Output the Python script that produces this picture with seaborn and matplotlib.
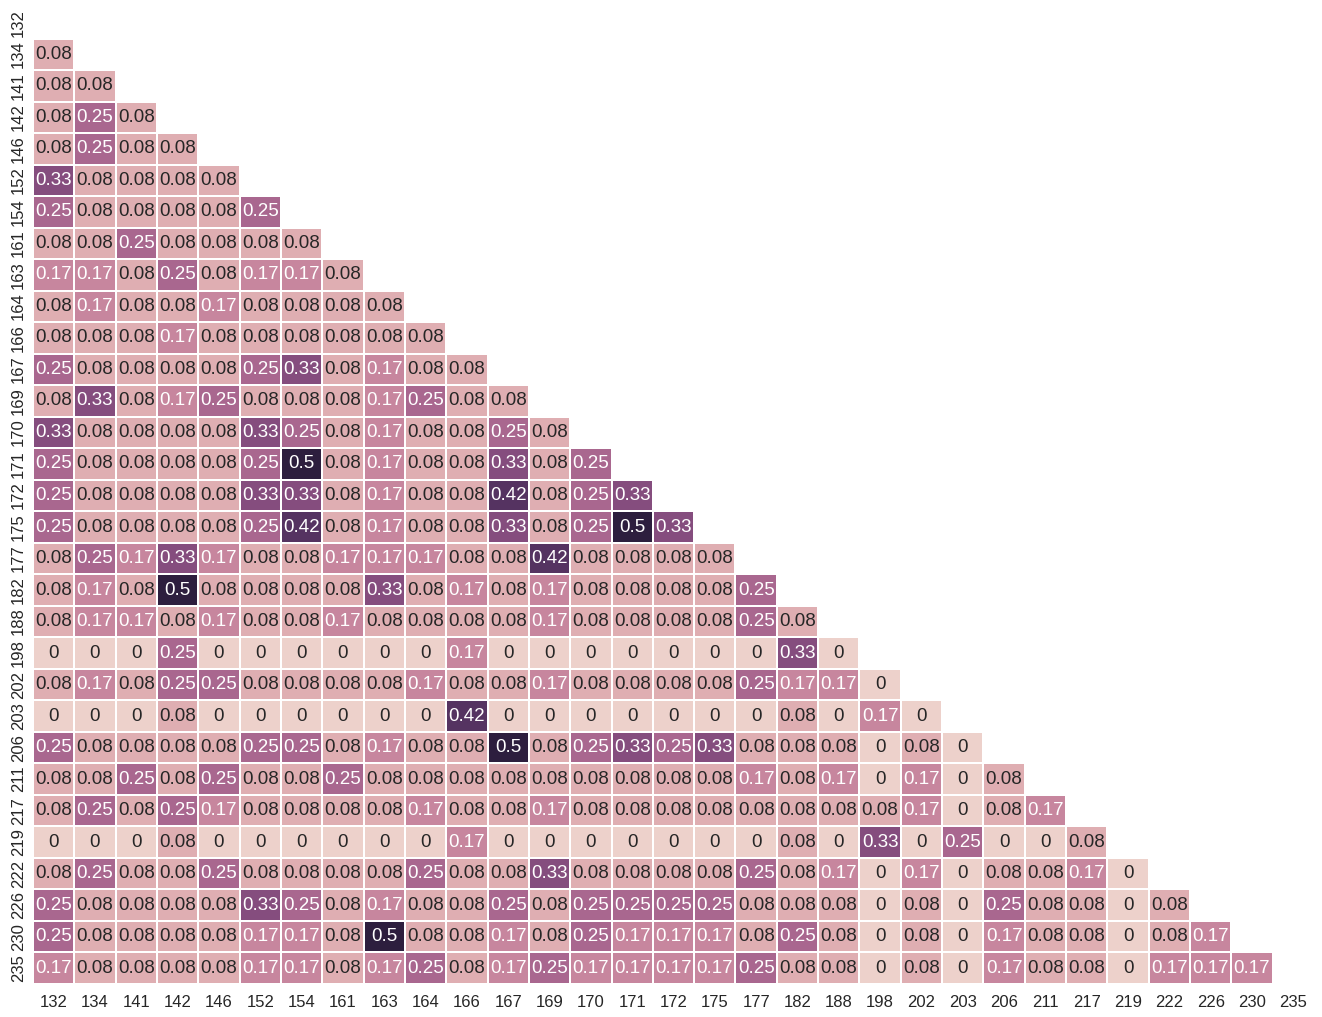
import matplotlib

matplotlib.use("Agg")
import matplotlib.pyplot as plt
import numpy as np
import pandas as pd
import seaborn as sns

LABELS = [
    "132", "134", "141", "142", "146", "152", "154", "161", "163", "164",
    "166", "167", "169", "170", "171", "172", "175", "177", "182", "188",
    "198", "202", "203", "206", "211", "217", "219", "222", "226", "230", "235",
]

# lower-triangle rows: values for columns 132.. up to the column before the row's own label
ROWS = [
    [],
    [0.08],
    [0.08, 0.08],
    [0.08, 0.25, 0.08],
    [0.08, 0.25, 0.08, 0.08],
    [0.33, 0.08, 0.08, 0.08, 0.08],
    [0.25, 0.08, 0.08, 0.08, 0.08, 0.25],
    [0.08, 0.08, 0.25, 0.08, 0.08, 0.08, 0.08],
    [0.17, 0.17, 0.08, 0.25, 0.08, 0.17, 0.17, 0.08],
    [0.08, 0.17, 0.08, 0.08, 0.17, 0.08, 0.08, 0.08, 0.08],
    [0.08, 0.08, 0.08, 0.17, 0.08, 0.08, 0.08, 0.08, 0.08, 0.08],
    [0.25, 0.08, 0.08, 0.08, 0.08, 0.25, 0.33, 0.08, 0.17, 0.08, 0.08],
    [0.08, 0.33, 0.08, 0.17, 0.25, 0.08, 0.08, 0.08, 0.17, 0.25, 0.08, 0.08],
    [0.33, 0.08, 0.08, 0.08, 0.08, 0.33, 0.25, 0.08, 0.17, 0.08, 0.08, 0.25, 0.08],
    [0.25, 0.08, 0.08, 0.08, 0.08, 0.25, 0.5, 0.08, 0.17, 0.08, 0.08, 0.33, 0.08, 0.25],
    [0.25, 0.08, 0.08, 0.08, 0.08, 0.33, 0.33, 0.08, 0.17, 0.08, 0.08, 0.42, 0.08, 0.25,
     0.33],
    [0.25, 0.08, 0.08, 0.08, 0.08, 0.25, 0.42, 0.08, 0.17, 0.08, 0.08, 0.33, 0.08, 0.25,
     0.5, 0.33],
    [0.08, 0.25, 0.17, 0.33, 0.17, 0.08, 0.08, 0.17, 0.17, 0.17, 0.08, 0.08, 0.42, 0.08,
     0.08, 0.08, 0.08],
    [0.08, 0.17, 0.08, 0.5, 0.08, 0.08, 0.08, 0.08, 0.33, 0.08, 0.17, 0.08, 0.17, 0.08,
     0.08, 0.08, 0.08, 0.25],
    [0.08, 0.17, 0.17, 0.08, 0.17, 0.08, 0.08, 0.17, 0.08, 0.08, 0.08, 0.08, 0.17, 0.08,
     0.08, 0.08, 0.08, 0.25, 0.08],
    [0, 0, 0, 0.25, 0, 0, 0, 0, 0, 0, 0.17, 0, 0, 0, 0, 0, 0, 0, 0.33, 0],
    [0.08, 0.17, 0.08, 0.25, 0.25, 0.08, 0.08, 0.08, 0.08, 0.17, 0.08, 0.08, 0.17, 0.08,
     0.08, 0.08, 0.08, 0.25, 0.17, 0.17, 0],
    [0, 0, 0, 0.08, 0, 0, 0, 0, 0, 0, 0.42, 0, 0, 0, 0, 0, 0, 0, 0.08, 0, 0.17, 0],
    [0.25, 0.08, 0.08, 0.08, 0.08, 0.25, 0.25, 0.08, 0.17, 0.08, 0.08, 0.5, 0.08, 0.25,
     0.33, 0.25, 0.33, 0.08, 0.08, 0.08, 0, 0.08, 0],
    [0.08, 0.08, 0.25, 0.08, 0.25, 0.08, 0.08, 0.25, 0.08, 0.08, 0.08, 0.08, 0.08, 0.08,
     0.08, 0.08, 0.08, 0.17, 0.08, 0.17, 0, 0.17, 0, 0.08],
    [0.08, 0.25, 0.08, 0.25, 0.17, 0.08, 0.08, 0.08, 0.08, 0.17, 0.08, 0.08, 0.17, 0.08,
     0.08, 0.08, 0.08, 0.08, 0.08, 0.08, 0.08, 0.17, 0, 0.08, 0.17],
    [0, 0, 0, 0.08, 0, 0, 0, 0, 0, 0, 0.17, 0, 0, 0, 0, 0, 0, 0, 0.08, 0, 0.33, 0, 0.25,
     0, 0, 0.08],
    [0.08, 0.25, 0.08, 0.08, 0.25, 0.08, 0.08, 0.08, 0.08, 0.25, 0.08, 0.08, 0.33, 0.08,
     0.08, 0.08, 0.08, 0.25, 0.08, 0.17, 0, 0.17, 0, 0.08, 0.08, 0.17, 0],
    [0.25, 0.08, 0.08, 0.08, 0.08, 0.33, 0.25, 0.08, 0.17, 0.08, 0.08, 0.25, 0.08, 0.25,
     0.25, 0.25, 0.25, 0.08, 0.08, 0.08, 0, 0.08, 0, 0.25, 0.08, 0.08, 0, 0.08],
    [0.25, 0.08, 0.08, 0.08, 0.08, 0.17, 0.17, 0.08, 0.5, 0.08, 0.08, 0.17, 0.08, 0.25,
     0.17, 0.17, 0.17, 0.08, 0.25, 0.08, 0, 0.08, 0, 0.17, 0.08, 0.08, 0, 0.08, 0.17],
    [0.17, 0.08, 0.08, 0.08, 0.08, 0.17, 0.17, 0.08, 0.17, 0.25, 0.08, 0.17, 0.25, 0.17,
     0.17, 0.17, 0.17, 0.25, 0.08, 0.08, 0, 0.08, 0, 0.17, 0.08, 0.08, 0, 0.17, 0.17,
     0.17],
]

n = len(LABELS)
matrix = np.full((n, n), np.nan)
for i, row in enumerate(ROWS):
    matrix[i, : len(row)] = row
df = pd.DataFrame(matrix, index=LABELS, columns=LABELS)
mask = np.triu(np.ones((n, n), dtype=bool))

sns.set_theme(style="white", font_scale=1.2)
plt.rcParams["font.family"] = ["Liberation Sans", "DejaVu Sans"]

fig, ax = plt.subplots(figsize=(13.22, 10.17), dpi=100)
fig.subplots_adjust(left=33 / 1322, right=1314 / 1322, bottom=1 - 984 / 1017, top=1 - 7 / 1017)

sns.heatmap(
    df,
    mask=mask,
    annot=True,
    fmt=".2g",
    cmap=sns.cubehelix_palette(as_cmap=True),
    cbar=False,
    linewidths=1.2,
    linecolor="white",
    annot_kws={"size": 13.5},
    ax=ax,
)
ax.tick_params(axis="both", labelsize=12, length=0)
ax.tick_params(axis="x", pad=8)
ax.tick_params(axis="y", pad=5)
plt.setp(ax.get_yticklabels(), rotation=90)
ax.set_xlabel("")
ax.set_ylabel("")

fig.savefig("out.png", dpi=100)
